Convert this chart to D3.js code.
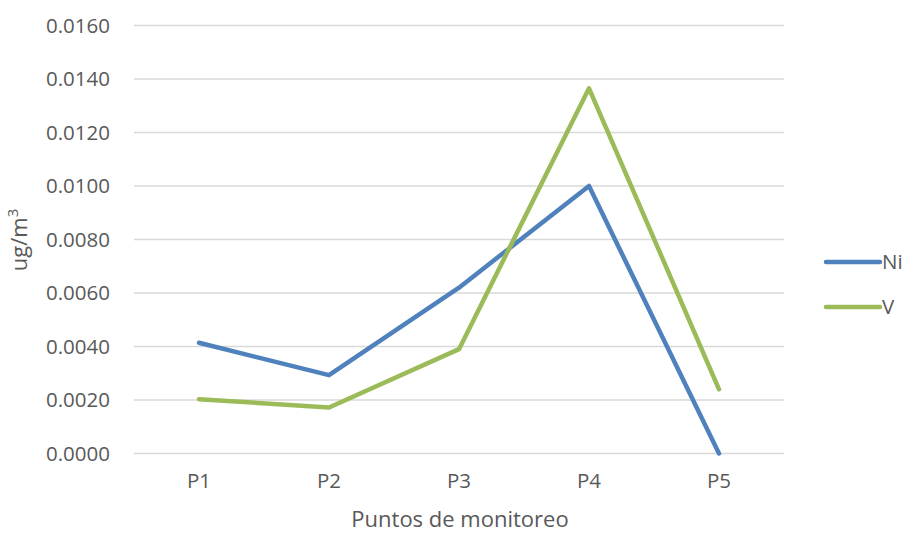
<!DOCTYPE html>
<html><head><meta charset="utf-8">
<script src="https://cdn.jsdelivr.net/npm/d3@7"></script>
<style>body{margin:0;background:#fff}svg{display:block}text{font-family:"Open Sans",sans-serif;fill:#595959}</style>
</head><body><svg id="c" width="907" height="534"></svg>
<script>
const categories = ["P1","P2","P3","P4","P5"];
const seriesNames = ["Ni","V"];
const niValues = [0.00414, 0.00293, 0.0062, 0.0100, 0.0000];
const vValues = [0.00203, 0.00172, 0.0039, 0.01365, 0.0024];
const yTicks = [0,0.002,0.004,0.006,0.008,0.010,0.012,0.014,0.016];
const colors = ["#4F81BD","#9BBB59"];

const svg = d3.select("#c");
const L=134, R=784, T=25.5, B=453.5;
const x = d3.scaleBand().domain(categories).range([L,R]);
const y = d3.scaleLinear().domain([0,0.016]).range([B,T]);

svg.append("g").selectAll("line").data(yTicks).join("line")
  .attr("x1",L).attr("x2",R).attr("y1",d=>y(d)).attr("y2",d=>y(d))
  .attr("stroke","#D9D9D9").attr("stroke-width",1.5);

const yAxis = svg.append("g").attr("transform",`translate(${L},0)`)
  .call(d3.axisLeft(y).tickValues(yTicks).tickFormat(d3.format(".4f")).tickSize(0).tickPadding(24));
yAxis.select(".domain").remove();
yAxis.selectAll("text").style("font-size","20.5px").attr("fill","#595959").style("font-family","'Open Sans',sans-serif");

const xAxis = svg.append("g").attr("transform",`translate(0,${B})`)
  .call(d3.axisBottom(x).tickSize(0).tickPadding(20));
xAxis.select(".domain").remove();
xAxis.selectAll("text").style("font-size","20.5px").attr("fill","#595959").style("font-family","'Open Sans',sans-serif");

const data = [niValues, vValues];
const line = d3.line().x((d,i)=>x(categories[i])+x.bandwidth()/2).y(d=>y(d));
svg.append("g").selectAll("path").data(data).join("path")
  .attr("d",line).attr("fill","none").attr("stroke",(d,i)=>colors[i])
  .attr("stroke-width",4.5).attr("stroke-linecap","round").attr("stroke-linejoin","round");

svg.append("text").attr("x",460).attr("y",527).attr("text-anchor","middle")
  .style("font-size","22px").text("Puntos de monitoreo");

const yt = svg.append("text").attr("transform","translate(27,240) rotate(-90)").attr("text-anchor","middle").style("font-size","22px");
yt.append("tspan").text("ug/m");
yt.append("tspan").attr("dy",-9).style("font-size","15px").text("3");

const leg = svg.append("g").selectAll("g").data(seriesNames).join("g")
  .attr("transform",(d,i)=>`translate(826,${262+i*45})`);
leg.append("line").attr("x1",0).attr("x2",54).attr("stroke",(d,i)=>colors[i])
  .attr("stroke-width",4.5).attr("stroke-linecap","round");
leg.append("text").attr("x",56).attr("y",7).style("font-size","20.5px").text(d=>d);
</script></body></html>
